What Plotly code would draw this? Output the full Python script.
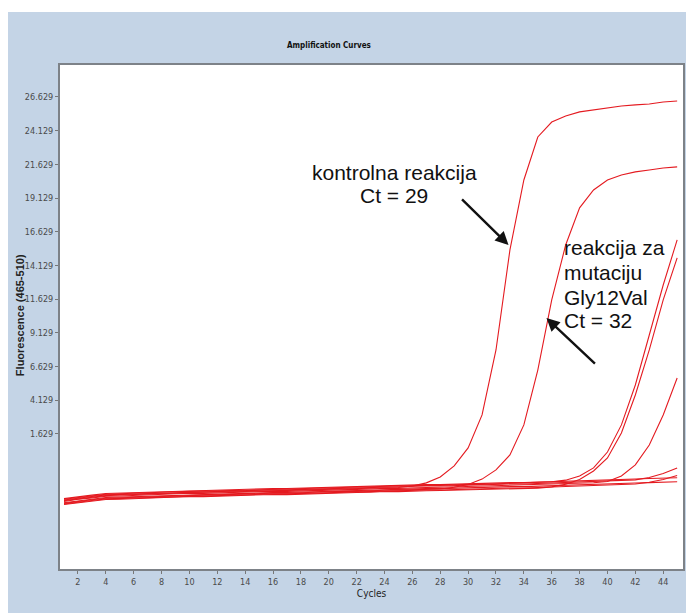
import plotly.graph_objects as go

cycles = list(range(1, 46))

ctrl_29 = [-3.32,-3.18,-3.05,-2.95,-2.90,-2.88,-2.83,-2.79,-2.77,-2.72,-2.71,-2.69,-2.66,-2.64,-2.61,-2.58,-2.56,-2.53,-2.50,-2.47,-2.43,-2.42,-2.39,-2.36,-2.34,
           -2.23,-2.00,-1.56,-0.74,0.59,3.04,7.86,15.28,20.47,23.66,24.77,25.22,25.52,25.66,25.81,25.96,26.04,26.11,26.26,26.33]
gly12val_32 = [-3.52,-3.37,-3.25,-3.14,-3.10,-3.07,-3.02,-3.00,-2.95,-2.92,-2.91,-2.89,-2.85,-2.84,-2.81,-2.76,-2.77,-2.73,-2.70,-2.66,-2.62,-2.63,-2.58,-2.55,-2.54,-2.51,-2.47,-2.46,
               -2.32,-2.12,-1.72,-1.04,0.07,2.30,6.37,11.57,15.65,18.40,19.73,20.47,20.84,21.07,21.21,21.36,21.44]
sample_3 = [-3.22,-3.08,-2.96,-2.85,-2.81,-2.76,-2.74,-2.70,-2.66,-2.63,-2.62,-2.58,-2.56,-2.55,-2.51,-2.48,-2.46,-2.44,-2.40,-2.36,-2.33,-2.34,-2.29,-2.25,-2.26,-2.21,-2.18,-2.19,-2.14,-2.10,-2.11,-2.07,-2.03,-2.04,-1.99,
            -1.92,-1.80,-1.49,-0.89,0.29,2.30,5.26,8.97,12.68,16.02]
sample_4 = [-3.60,-3.46,-3.35,-3.23,-3.21,-3.16,-3.13,-3.09,-3.06,-3.01,-3.02,-2.98,-2.95,-2.94,-2.91,-2.86,-2.87,-2.83,-2.80,-2.75,-2.73,-2.72,-2.69,-2.64,-2.65,-2.60,-2.58,-2.57,-2.54,-2.49,-2.50,-2.46,-2.43,-2.42,-2.39,
            -2.30,-2.10,-1.75,-1.12,-0.15,1.70,4.52,7.86,11.57,14.69]
sample_5 = [-3.38,-3.22,-3.12,-2.99,-2.97,-2.92,-2.89,-2.85,-2.82,-2.77,-2.78,-2.74,-2.71,-2.69,-2.67,-2.62,-2.63,-2.59,-2.56,-2.51,-2.49,-2.48,-2.45,-2.40,-2.41,-2.36,-2.34,-2.33,-2.30,-2.25,-2.26,-2.22,-2.19,-2.18,-2.15,-2.10,-2.08,-2.03,-1.99,
            -1.90,-1.49,-0.67,0.81,3.04,5.78]
sample_6 = [-3.27,-3.12,-3.01,-2.89,-2.86,-2.82,-2.78,-2.75,-2.71,-2.67,-2.67,-2.64,-2.60,-2.60,-2.56,-2.52,-2.52,-2.49,-2.45,-2.41,-2.38,-2.38,-2.34,-2.30,-2.30,-2.26,-2.23,-2.23,-2.19,-2.15,-2.15,-2.12,-2.08,-2.08,-2.04,-2.00,-1.97,-1.93,-1.90,-1.87,-1.84,
            -1.78,-1.60,-1.30,-0.90]
sample_7 = [-3.57,-3.42,-3.31,-3.19,-3.16,-3.12,-3.08,-3.05,-3.01,-2.97,-2.97,-2.94,-2.90,-2.90,-2.86,-2.82,-2.82,-2.79,-2.75,-2.71,-2.68,-2.68,-2.64,-2.60,-2.60,-2.56,-2.53,-2.53,-2.49,-2.45,-2.45,-2.42,-2.38,-2.38,-2.34,-2.30,-2.27,-2.23,-2.20,-2.17,-2.14,
            -2.08,-1.95,-1.75,-1.45]
negative_1 = [-3.47,-3.32,-3.21,-3.09,-3.06,-3.02,-2.98,-2.95,-2.91,-2.87,-2.87,-2.84,-2.80,-2.80,-2.76,-2.72,-2.72,-2.69,-2.65,-2.61,-2.58,-2.58,-2.54,-2.50,-2.50,-2.46,-2.43,-2.43,-2.39,-2.35,-2.35,-2.32,-2.28,-2.28,-2.24,-2.20,-2.17,-2.13,-2.10,-2.07,-2.04,-2.01,-1.98,-1.95,-1.92]
negative_2 = [-3.17,-3.02,-2.91,-2.79,-2.76,-2.72,-2.68,-2.65,-2.61,-2.57,-2.57,-2.54,-2.50,-2.50,-2.46,-2.42,-2.42,-2.39,-2.35,-2.31,-2.28,-2.28,-2.24,-2.20,-2.20,-2.16,-2.13,-2.13,-2.09,-2.05,-2.05,-2.02,-1.98,-1.98,-1.94,-1.90,-1.87,-1.83,-1.80,-1.77,-1.74,-1.71,-1.68,-1.65,-1.62]

series = [negative_1, negative_2, sample_7, sample_6, sample_5, sample_4, sample_3, gly12val_32, ctrl_29]

y_tickvals = [1.629, 4.129, 6.629, 9.129, 11.629, 14.129, 16.629, 19.129, 21.629, 24.129, 26.629]
y_ticktext = ["1.629", "4.129", "6.629", "9.129", "11.629", "14.129", "16.629", "19.129", "21.629", "24.129", "26.629"]
x_tickvals = list(range(2, 45, 2))

fig = go.Figure()
for s in series:
    fig.add_trace(go.Scatter(x=cycles, y=s, mode="lines",
                             line=dict(color="#e41a20", width=1.1),
                             showlegend=False, hoverinfo="skip"))

tickfont = dict(family="DejaVu Sans Condensed, Liberation Sans Narrow, Liberation Sans", size=9, color="#4a4a4a")

# plot area: 52..677 x 57..561 in a 686x605 figure
W, H = 686, 605
L, R, T, B = 52, 9, 57, 44
PW, PH = W - L - R, H - T - B

def px(x):
    return (x - 8 - L) / PW

def py(y):
    return (H - B - (y - 8)) / PH

fig.update_layout(
    width=W, height=H,
    margin=dict(l=L, r=R, t=T, b=B),
    paper_bgcolor="#c4d4e6",
    plot_bgcolor="white",
    showlegend=False,
    shapes=[dict(type="rect", xref="paper", yref="paper", layer="above",
                 x0=px(0), x1=px(700), y0=py(12), y1=py(0),
                 fillcolor="white", line=dict(width=0))],
)
fig.update_xaxes(range=[0.7125, 45.42], tickvals=x_tickvals, ticks="outside", ticklen=3,
                 tickcolor="#777", tickfont=tickfont, showgrid=False, zeroline=False,
                 showline=True, linecolor="#7d8288", linewidth=2, mirror=True,
                 title=dict(text="Cycles", font=dict(family="DejaVu Sans Condensed, Liberation Sans Narrow", size=10, color="#222"), standoff=4))
fig.update_yaxes(range=[-8.39, 29.0], tickvals=y_tickvals, ticktext=y_ticktext, ticks="outside", ticklen=3,
                 tickcolor="#777", tickfont=tickfont, showgrid=False, zeroline=False,
                 showline=True, linecolor="#7d8288", linewidth=2, mirror=True)

annots = [
    dict(text="<b>Amplification Curves</b>", x=px(330), y=py(46), size=8, xanchor="center", font="DejaVu Sans Condensed, Liberation Sans Narrow"),
    dict(text="kontrolna reakcija", x=px(395.5), y=py(172), size=21, xanchor="center", font="Liberation Sans, Arial"),
    dict(text="Ct = 29", x=px(395), y=py(196), size=21, xanchor="center", font="Liberation Sans, Arial"),
    dict(text="reakcija za", x=px(564), y=py(247), size=21, xanchor="left", font="Liberation Sans, Arial"),
    dict(text="mutaciju", x=px(564), y=py(272), size=21, xanchor="left", font="Liberation Sans, Arial"),
    dict(text="Gly12Val", x=px(564), y=py(297), size=21, xanchor="left", font="Liberation Sans, Arial"),
    dict(text="Ct = 32", x=px(564), y=py(320), size=21, xanchor="left", font="Liberation Sans, Arial"),
]
for a in annots:
    fig.add_annotation(text=a["text"], x=a["x"], y=a["y"], xref="paper", yref="paper",
                       xanchor=a["xanchor"], yanchor="middle", showarrow=False,
                       font=dict(family=a["font"], size=a["size"], color="#111"))

fig.add_annotation(text="<b>Fluorescence (465-510)</b>", x=px(20), y=py(315),
                   xref="paper", yref="paper", textangle=-90, showarrow=False,
                   xanchor="center", yanchor="middle",
                   font=dict(family="Liberation Sans, Arial", size=11, color="#222"))

# arrows: tip anchored on curves in data coordinates
fig.add_annotation(x=32.9, y=15.65, xref="x", yref="y", ax=-48, ay=-47, text="",
                   showarrow=True, arrowhead=2, arrowsize=1.1, arrowwidth=2.4, arrowcolor="#111")
fig.add_annotation(x=35.62, y=10.23, xref="x", yref="y", ax=50, ay=47, text="",
                   showarrow=True, arrowhead=2, arrowsize=1.1, arrowwidth=2.4, arrowcolor="#111")

fig.write_html("out.html")
